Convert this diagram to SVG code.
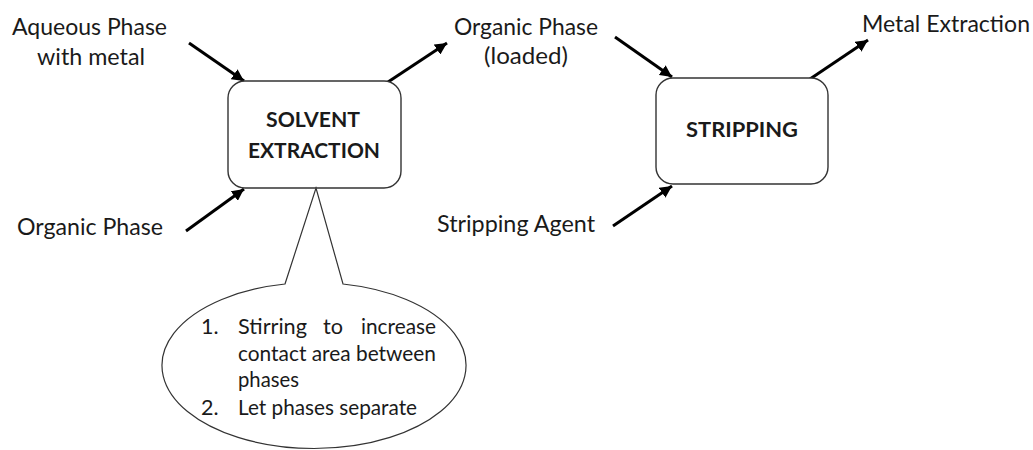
<svg xmlns="http://www.w3.org/2000/svg" width="1033" height="450" viewBox="0 0 1033 450">
<style>
text{font-family:Lato,"Open Sans","Liberation Sans",sans-serif;fill:#1a1a1a}
.lbl{font-size:22.5px}
.bold{font-size:21px;font-weight:bold;text-anchor:middle}
.note{font-size:21.5px}
.box{fill:#fff;stroke:#333;stroke-width:1.4}
.arrow{stroke:#000;stroke-width:3;fill:none;marker-end:url(#ah)}
.callout{fill:#fff;stroke:#333;stroke-width:1.2}
</style>
<defs>
<marker id="ah" markerUnits="userSpaceOnUse" markerWidth="14" markerHeight="12" refX="12" refY="6" orient="auto">
<path d="M0,0 L12,6 L0,12 Z" fill="#000"/>
</marker>
</defs>
<g id="connectors">
<line class="arrow" x1="189" y1="43" x2="244" y2="81"/>
<line class="arrow" x1="186" y1="231" x2="244" y2="189"/>
<line class="arrow" x1="388" y1="82" x2="447" y2="43"/>
<line class="arrow" x1="615" y1="37" x2="672" y2="77"/>
<line class="arrow" x1="613" y1="226" x2="672" y2="186"/>
<line class="arrow" x1="810" y1="79" x2="868" y2="40"/>
</g>
<g id="aqueous-phase">
<text class="lbl" x="12" y="35" textLength="155" lengthAdjust="spacingAndGlyphs">Aqueous Phase</text>
<text class="lbl" x="37" y="65" textLength="108" lengthAdjust="spacingAndGlyphs">with metal</text>
</g>
<g id="organic-phase">
<text class="lbl" x="17" y="235" textLength="146" lengthAdjust="spacingAndGlyphs">Organic Phase</text>
</g>
<g id="solvent-extraction">
<rect class="box" x="228" y="81" width="173" height="107" rx="17" ry="17"/>
<text class="bold" x="313" y="127" textLength="94" lengthAdjust="spacingAndGlyphs">SOLVENT</text>
<text class="bold" x="314" y="158" textLength="132" lengthAdjust="spacingAndGlyphs">EXTRACTION</text>
</g>
<g id="callout">
<path class="callout" d="M285,284 L316,188 L343,284 A152,83 0 1 1 285,284 Z"/>
<text class="note" x="201" y="334">1.</text>
<text class="note" x="238" y="334" textLength="69" lengthAdjust="spacingAndGlyphs">Stirring</text>
<text class="note" x="323" y="334" textLength="20" lengthAdjust="spacingAndGlyphs">to</text>
<text class="note" x="361" y="334" textLength="75" lengthAdjust="spacingAndGlyphs">increase</text>
<text class="note" x="238" y="361" textLength="198" lengthAdjust="spacingAndGlyphs">contact area between</text>
<text class="note" x="238" y="387" textLength="61" lengthAdjust="spacingAndGlyphs">phases</text>
<text class="note" x="201" y="415">2.</text>
<text class="note" x="238" y="415" textLength="179" lengthAdjust="spacingAndGlyphs">Let phases separate</text>
</g>
<g id="organic-phase-loaded">
<text class="lbl" x="454" y="35" textLength="144" lengthAdjust="spacingAndGlyphs">Organic Phase</text>
<text class="lbl" x="484" y="64" textLength="84" lengthAdjust="spacingAndGlyphs">(loaded)</text>
</g>
<g id="stripping">
<rect class="box" x="656" y="78" width="172" height="106" rx="17" ry="17"/>
<text class="bold" x="742" y="137" textLength="112" lengthAdjust="spacingAndGlyphs">STRIPPING</text>
</g>
<g id="stripping-agent">
<text class="lbl" x="437" y="232" textLength="158" lengthAdjust="spacingAndGlyphs">Stripping Agent</text>
</g>
<g id="metal-extraction">
<text class="lbl" x="862" y="32" textLength="168" lengthAdjust="spacingAndGlyphs">Metal Extraction</text>
</g>
</svg>
